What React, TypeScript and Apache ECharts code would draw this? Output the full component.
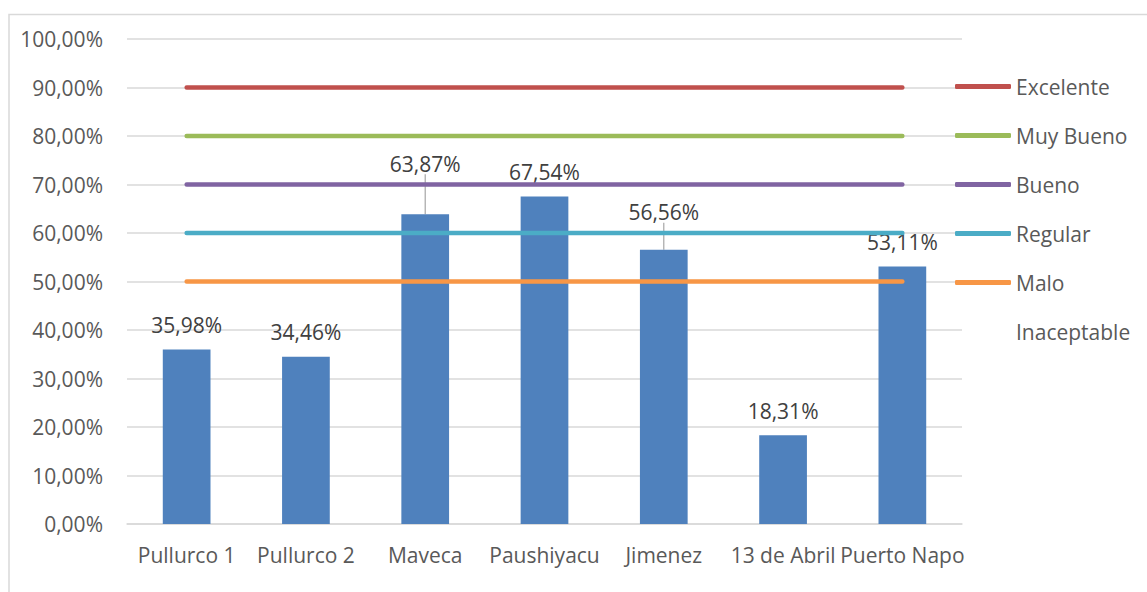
import React, { useEffect, useRef } from "react";
import * as echarts from "echarts";

const categories = ["Pullurco 1", "Pullurco 2", "Maveca", "Paushiyacu", "Jimenez", "13 de Abril", "Puerto Napo"];
const barValues = [35.98, 34.46, 63.87, 67.54, 56.56, 18.31, 53.11];
const levelNames = ["Excelente", "Muy Bueno", "Bueno", "Regular", "Malo", "Inaceptable"];
const levelValues = [90, 80, 70, 60, 50, null];
const levelColors = ["#C0504D", "#9BBB59", "#8064A2", "#4BACC6", "#F79646", "rgba(0,0,0,0)"];
const labelShift: Record<number, number> = { 2: -26, 4: -13 };

const FONT = "Open Sans";
const FS = 21;

export default function App() {
  const ref = useRef<HTMLDivElement>(null);
  useEffect(() => {
    if (!ref.current) return;
    const chart = echarts.init(ref.current, undefined, { renderer: "svg" });
    const fmt = (v: number) => v.toFixed(2).replace(".", ",") + "%";
    const lineSeries = levelNames.map((name, i) => ({
      name,
      type: "line",
      data: levelValues[i] === null ? [] : categories.map(() => levelValues[i]),
      symbol: "none",
      z: 3,
      lineStyle: { color: levelColors[i], width: 4.5, cap: "round" },
      itemStyle: { color: levelColors[i] },
    }));
    const barData = barValues.map((v, i) => ({
      value: v,
      labelLine: { show: labelShift[i] !== undefined },
    }));
    chart.setOption({
      animation: false,
      textStyle: { fontFamily: FONT },
      graphic: [
        {
          type: "rect",
          shape: { x: 9, y: 14.5, width: 1300, height: 800 },
          style: { fill: "none", stroke: "#D9D9D9", lineWidth: 1.5 },
          silent: true,
        },
      ],
      grid: { left: 127, right: 185, top: 39, bottom: 68, containLabel: false },
      legend: {
        orient: "vertical",
        left: 955,
        top: 76,
        padding: 0,
        itemWidth: 56,
        itemHeight: 5,
        itemGap: 28,
        icon: "roundRect",
        data: levelNames,
        selectedMode: false,
        textStyle: { color: "#595959", fontSize: FS, lineHeight: 20, fontFamily: FONT },
      },
      xAxis: {
        type: "category",
        data: categories,
        axisTick: { show: false },
        axisLine: { lineStyle: { color: "#D9D9D9", width: 1.5 } },
        axisLabel: { color: "#595959", fontSize: FS, fontFamily: FONT, margin: 20, interval: 0 },
      },
      yAxis: {
        type: "value",
        min: 0,
        max: 100,
        interval: 10,
        axisLine: { show: false },
        axisTick: { show: false },
        splitLine: { lineStyle: { color: "#D9D9D9", width: 1.5 } },
        axisLabel: { color: "#595959", fontSize: FS, fontFamily: FONT, margin: 24, formatter: fmt },
      },
      series: [
        {
          name: "Valor",
          type: "bar",
          data: barData,
          barWidth: "40%",
          z: 2,
          itemStyle: { color: "#4F81BD" },
          label: {
            show: true,
            position: "top",
            distance: 14,
            color: "#404040",
            fontSize: FS,
            fontFamily: FONT,
            formatter: (p: any) => fmt(p.value),
          },
          labelLayout: (p: any) => (labelShift[p.dataIndex] ? { dy: labelShift[p.dataIndex] } : {}),
          labelLine: { show: false, lineStyle: { color: "#A6A6A6", width: 1.2 } },
        },
        ...lineSeries,
      ],
    });
    return () => chart.dispose();
  }, []);
  return <div ref={ref} style={{ position: "absolute", left: 0, top: 0, width: 1147, height: 592, background: "#fff" }} />;
}
